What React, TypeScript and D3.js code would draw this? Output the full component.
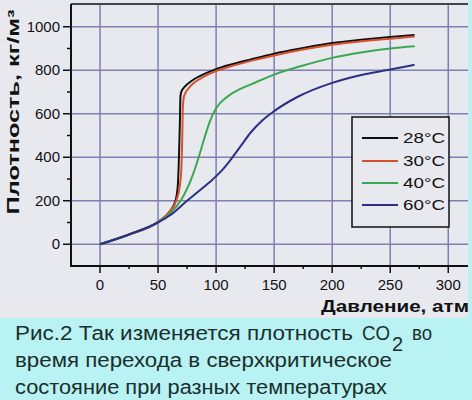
import React from "react";
import * as d3 from "d3";

const p28 = [0, 25, 50, 60, 65, 67, 68, 68.8, 69.3, 70, 71.5, 75, 80, 90, 100, 112, 130, 150, 175, 200, 225, 250, 271];
const d28 = [0, 45, 103, 150, 200, 270, 400, 560, 680, 700, 715, 735, 755, 783, 805, 825, 850, 876, 902, 925, 940, 953, 962];
const p30 = [0, 25, 50, 60, 66, 68.5, 70, 70.8, 71.3, 72, 73.5, 76, 80, 90, 100, 112, 130, 150, 175, 200, 225, 250, 271];
const d30 = [0, 45, 103, 150, 205, 260, 340, 480, 620, 670, 695, 715, 738, 772, 796, 817, 843, 868, 895, 917, 933, 945, 955];
const p40 = [0, 25, 50, 60, 70, 75, 80, 85, 90, 95, 100, 110, 120, 130, 150, 175, 200, 225, 250, 271];
const d40 = [0, 45, 102, 140, 205, 255, 320, 400, 490, 570, 625, 680, 712, 735, 780, 822, 857, 882, 900, 910];
const p60 = [0, 25, 50, 60, 75, 86, 97, 105, 112, 121, 130, 140, 150, 170, 200, 225, 250, 271];
const d60 = [0, 45, 100, 132, 200, 248, 298, 340, 385, 450, 515, 570, 612, 677, 742, 778, 803, 825];

const seriesNames = ["28°C", "30°C", "40°C", "60°C"];
const seriesColors = ["#111111", "#d8502c", "#3aa852", "#2b2f86"];

const xTicks = [0, 50, 100, 150, 200, 250, 300];
const xMinor = [25, 75, 125, 175, 225, 275];
const yTicks = [0, 200, 400, 600, 800, 1000];
const yMinor = [100, 300, 500, 700, 900];

const yTitle = "Плотность, кг/м³";
const xTitle = "Давление, атм";

export default function App() {
  const x = d3.scaleLinear().domain([-25, 317]).range([71, 468]);
  const y = d3.scaleLinear().domain([-100, 1100]).range([266, 5]);
  const series = [
    [p28, d28],
    [p30, d30],
    [p40, d40],
    [p60, d60],
  ];
  const line = d3
    .line<[number, number]>()
    .x((d) => x(d[0]))
    .y((d) => y(d[1]))
    .curve(d3.curveMonotoneX);

  const gridColor = "#7d80b2";
  const bg = "#e8e9ef";
  const cyan = "#b8f2f3";
  const legendY = [138, 161, 183, 205];

  return (
    <svg
      width={472}
      height={400}
      style={{ position: "absolute", left: 0, top: 0 }}
      fontFamily="Liberation Sans, Arial, sans-serif"
    >
      <rect x={0} y={0} width={472} height={400} fill={bg} />
      <rect x={0} y={318} width={472} height={82} fill={cyan} />
      <rect x={468} y={0} width={4} height={318} fill={cyan} />

      {/* grid */}
      {xTicks.map((t) => (
        <line key={"gx" + t} x1={x(t)} x2={x(t)} y1={5} y2={266} stroke={gridColor} strokeWidth={1.5} />
      ))}
      {yTicks.map((t) => (
        <line key={"gy" + t} x1={71} x2={468} y1={y(t)} y2={y(t)} stroke={gridColor} strokeWidth={1.5} />
      ))}

      {/* top border */}
      <line x1={71} x2={468} y1={4} y2={4} stroke="#3a4a4a" strokeWidth={2} />

      {/* curves */}
      {series.map(([ps, ds], i) => (
        <path
          key={"s" + i}
          d={line(ps.map((p, j) => [p, ds[j]] as [number, number])) || ""}
          fill="none"
          stroke={seriesColors[i]}
          strokeWidth={2}
        />
      ))}

      {/* axes */}
      <line x1={71} x2={71} y1={4} y2={267} stroke="#111" strokeWidth={2} />
      <line x1={70} x2={468} y1={266} y2={266} stroke="#111" strokeWidth={2} />
      {yTicks.map((t) => (
        <g key={"yt" + t}>
          <line x1={63} x2={71} y1={y(t)} y2={y(t)} stroke="#111" strokeWidth={1.5} />
          <text x={60} y={y(t) + 5} textAnchor="end" fontSize={15} fill="#111">
            {t}
          </text>
        </g>
      ))}
      {yMinor.map((t) => (
        <line key={"ym" + t} x1={67} x2={71} y1={y(t)} y2={y(t)} stroke="#111" strokeWidth={1.5} />
      ))}
      {xTicks.map((t) => (
        <g key={"xt" + t}>
          <line x1={x(t)} x2={x(t)} y1={266} y2={273} stroke="#111" strokeWidth={1.5} />
          <text x={x(t)} y={290} textAnchor="middle" fontSize={15} fill="#111">
            {t}
          </text>
        </g>
      ))}
      {xMinor.map((t) => (
        <line key={"xm" + t} x1={x(t)} x2={x(t)} y1={266} y2={269} stroke="#111" strokeWidth={1.5} />
      ))}

      {/* titles */}
      <text
        transform="translate(19,112) rotate(-90)"
        textAnchor="middle"
        fontSize={16}
        fontWeight="bold"
        fill="#111"
        textLength={205}
        lengthAdjust="spacingAndGlyphs"
      >
        {yTitle}
      </text>
      <text x={321} y={312} fontSize={17} fontWeight="bold" fill="#111" textLength={148} lengthAdjust="spacingAndGlyphs">
        {xTitle}
      </text>

      {/* legend */}
      <rect x={352} y={117} width={97} height={110} fill={bg} stroke="#111" strokeWidth={1.5} />
      {seriesNames.map((n, i) => (
        <g key={"lg" + i}>
          <line x1={362} x2={398} y1={legendY[i]} y2={legendY[i]} stroke={seriesColors[i]} strokeWidth={2} />
          <text x={403} y={legendY[i] + 5} fontSize={15} fill="#111" textLength={42} lengthAdjust="spacingAndGlyphs">
            {n}
          </text>
        </g>
      ))}

      {/* caption */}
      <g fontSize={20} fill="#1b2e2c">
        <text x={15} y={340} textLength={338} lengthAdjust="spacingAndGlyphs">
          Рис.2 Так изменяется плотность
        </text>
        <text x={362} y={340} textLength={28} lengthAdjust="spacingAndGlyphs">
          CO
        </text>
        <text x={392} y={351}>2</text>
        <text x={412} y={340} textLength={20} lengthAdjust="spacingAndGlyphs">
          во
        </text>
        <text x={15} y={367} textLength={377} lengthAdjust="spacingAndGlyphs">
          время перехода в сверхкритическое
        </text>
        <text x={15} y={394} textLength={372} lengthAdjust="spacingAndGlyphs">
          состояние при разных температурах
        </text>
      </g>
    </svg>
  );
}
